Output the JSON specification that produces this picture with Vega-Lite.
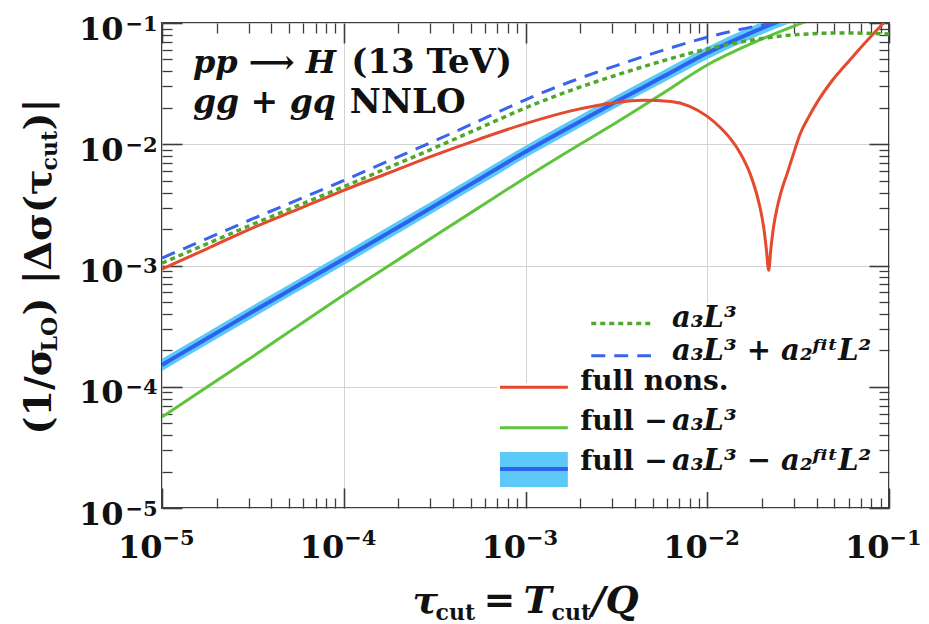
{
  "$schema": "https://vega.github.io/schema/vega-lite/v6.json",
  "width": 727,
  "height": 485,
  "autosize": {"type": "none"},
  "padding": {"left": 162, "top": 23, "right": 40, "bottom": 116},
  "background": "white",
  "datasets": {
    "band": [
      {"tau": 1e-5, "value": 1.514e-4, "lo": 1.349e-4, "hi": 1.699e-4},
      {"tau": 1.778e-5, "value": 2.512e-4, "lo": 2.239e-4, "hi": 2.818e-4},
      {"tau": 3.162e-5, "value": 4.169e-4, "lo": 3.716e-4, "hi": 4.678e-4},
      {"tau": 5.623e-5, "value": 6.871e-4, "lo": 6.124e-4, "hi": 7.709e-4},
      {"tau": 1e-4, "value": 1.132e-3, "lo": 1.009e-3, "hi": 1.270e-3},
      {"tau": 1.778e-4, "value": 1.875e-3, "lo": 1.671e-3, "hi": 2.104e-3},
      {"tau": 3.162e-4, "value": 3.112e-3, "lo": 2.774e-3, "hi": 3.492e-3},
      {"tau": 5.623e-4, "value": 5.200e-3, "lo": 4.635e-3, "hi": 5.834e-3},
      {"tau": 1e-3, "value": 8.670e-3, "lo": 7.728e-3, "hi": 9.728e-3},
      {"tau": 1.778e-3, "value": 1.403e-2, "lo": 1.250e-2, "hi": 1.574e-2},
      {"tau": 3.162e-3, "value": 2.249e-2, "lo": 2.005e-2, "hi": 2.523e-2},
      {"tau": 5.623e-3, "value": 3.565e-2, "lo": 3.178e-2, "hi": 4.000e-2},
      {"tau": 1e-2, "value": 5.649e-2, "lo": 5.035e-2, "hi": 6.338e-2},
      {"tau": 1.778e-2, "value": 8.414e-2, "lo": 7.500e-2, "hi": 9.441e-2},
      {"tau": 3.162e-2, "value": 0.1189, "lo": 0.1060, "hi": 0.1334}
    ],
    "fullMinusA3": [
      {"tau": 1e-5, "value": 5.623e-5},
      {"tau": 1.778e-5, "value": 1.0e-4},
      {"tau": 3.162e-5, "value": 1.778e-4},
      {"tau": 5.623e-5, "value": 3.192e-4},
      {"tau": 1e-4, "value": 5.715e-4},
      {"tau": 1.778e-4, "value": 1.0e-3},
      {"tau": 3.162e-4, "value": 1.750e-3},
      {"tau": 5.623e-4, "value": 3.048e-3},
      {"tau": 1e-3, "value": 5.297e-3},
      {"tau": 1.778e-3, "value": 9.016e-3},
      {"tau": 3.162e-3, "value": 1.514e-2},
      {"tau": 5.623e-3, "value": 2.600e-2},
      {"tau": 1e-2, "value": 4.508e-2},
      {"tau": 1.778e-2, "value": 6.839e-2},
      {"tau": 3.162e-2, "value": 9.727e-2},
      {"tau": 5.623e-2, "value": 0.1349}
    ],
    "fullNons": [
      {"tau": 1e-5, "value": 9.333e-4},
      {"tau": 1.778e-5, "value": 1.380e-3},
      {"tau": 3.162e-5, "value": 2.042e-3},
      {"tau": 5.623e-5, "value": 2.917e-3},
      {"tau": 1e-4, "value": 4.169e-3},
      {"tau": 1.778e-4, "value": 5.821e-3},
      {"tau": 3.162e-4, "value": 8.128e-3},
      {"tau": 5.623e-4, "value": 1.109e-2},
      {"tau": 1e-3, "value": 1.479e-2},
      {"tau": 1.778e-3, "value": 1.884e-2},
      {"tau": 3.162e-3, "value": 2.213e-2},
      {"tau": 4.467e-3, "value": 2.301e-2},
      {"tau": 6.310e-3, "value": 2.249e-2},
      {"tau": 7.943e-3, "value": 2.065e-2},
      {"tau": 1e-2, "value": 1.698e-2},
      {"tau": 1.175e-2, "value": 1.380e-2},
      {"tau": 1.334e-2, "value": 1.122e-2},
      {"tau": 1.514e-2, "value": 8.511e-3},
      {"tau": 1.718e-2, "value": 5.754e-3},
      {"tau": 1.862e-2, "value": 3.981e-3},
      {"tau": 1.950e-2, "value": 3.020e-3},
      {"tau": 2.042e-2, "value": 2.089e-3},
      {"tau": 2.113e-2, "value": 1.380e-3},
      {"tau": 2.178e-2, "value": 9.120e-4},
      {"tau": 2.239e-2, "value": 1.380e-3},
      {"tau": 2.317e-2, "value": 2.089e-3},
      {"tau": 2.427e-2, "value": 3.020e-3},
      {"tau": 2.541e-2, "value": 3.981e-3},
      {"tau": 2.754e-2, "value": 5.754e-3},
      {"tau": 2.951e-2, "value": 7.943e-3},
      {"tau": 3.236e-2, "value": 1.202e-2},
      {"tau": 3.631e-2, "value": 1.698e-2},
      {"tau": 3.981e-2, "value": 2.163e-2},
      {"tau": 4.898e-2, "value": 3.388e-2},
      {"tau": 6.095e-2, "value": 4.955e-2},
      {"tau": 7.586e-2, "value": 7.161e-2},
      {"tau": 9.333e-2, "value": 0.1},
      {"tau": 0.1, "value": 0.1109}
    ],
    "a3": [
      {"tau": 1e-5, "value": 1.047e-3},
      {"tau": 1.778e-5, "value": 1.514e-3},
      {"tau": 3.162e-5, "value": 2.188e-3},
      {"tau": 5.623e-5, "value": 3.126e-3},
      {"tau": 1e-4, "value": 4.467e-3},
      {"tau": 1.778e-4, "value": 6.457e-3},
      {"tau": 3.162e-4, "value": 9.333e-3},
      {"tau": 5.623e-4, "value": 1.365e-2},
      {"tau": 1e-3, "value": 1.995e-2},
      {"tau": 1.778e-3, "value": 2.786e-2},
      {"tau": 3.162e-3, "value": 3.715e-2},
      {"tau": 5.623e-3, "value": 4.842e-2},
      {"tau": 1e-2, "value": 6.109e-2},
      {"tau": 1.778e-2, "value": 7.244e-2},
      {"tau": 3.162e-2, "value": 8.035e-2},
      {"tau": 5.623e-2, "value": 8.279e-2},
      {"tau": 0.1, "value": 8.128e-2}
    ],
    "a3a2": [
      {"tau": 1e-5, "value": 1.152e-3},
      {"tau": 1.778e-5, "value": 1.673e-3},
      {"tau": 3.162e-5, "value": 2.430e-3},
      {"tau": 5.623e-5, "value": 3.494e-3},
      {"tau": 1e-4, "value": 5.024e-3},
      {"tau": 1.778e-4, "value": 7.317e-3},
      {"tau": 3.162e-4, "value": 1.066e-2},
      {"tau": 5.623e-4, "value": 1.574e-2},
      {"tau": 1e-3, "value": 2.327e-2},
      {"tau": 1.778e-3, "value": 3.292e-2},
      {"tau": 3.162e-3, "value": 4.457e-2},
      {"tau": 5.623e-3, "value": 5.917e-2},
      {"tau": 1e-2, "value": 7.633e-2},
      {"tau": 1.778e-2, "value": 9.307e-2},
      {"tau": 3.162e-2, "value": 0.1071}
    ]
  },
  "resolve": {"axis": {"x": "independent", "y": "independent"}},
  "layer": [
    {
      "data": {"name": "band"},
      "mark": {"type": "area", "color": "#5cc9f7", "opacity": 1, "clip": true, "interpolate": "monotone"},
      "encoding": {
        "x": {"field": "tau", "type": "quantitative", "scale": {"type": "log", "domain": [1e-5, 0.1], "nice": false},
          "axis": {"orient": "bottom", "values": [1e-5, 1e-4, 1e-3, 1e-2, 1e-1], "tickSize": -20, "tickWidth": 1.6, "labels": false, "grid": true, "title": null}},
        "y": {"field": "lo", "type": "quantitative", "scale": {"type": "log", "domain": [1e-5, 0.1], "nice": false},
          "axis": {"orient": "left", "values": [1e-5, 1e-4, 1e-3, 1e-2, 1e-1], "tickSize": -20, "tickWidth": 1.6, "labels": false, "grid": true, "title": null}},
        "y2": {"field": "hi"}
      }
    },
    {
      "data": {"name": "band"},
      "mark": {"type": "line", "color": "#2b63f0", "strokeWidth": 4, "clip": true, "interpolate": "monotone"},
      "encoding": {
        "x": {"field": "tau", "type": "quantitative",
          "axis": {"orient": "bottom", "values": [2e-5, 3e-5, 4e-5, 5e-5, 6e-5, 7e-5, 8e-5, 9e-5, 2e-4, 3e-4, 4e-4, 5e-4, 6e-4, 7e-4, 8e-4, 9e-4, 2e-3, 3e-3, 4e-3, 5e-3, 6e-3, 7e-3, 8e-3, 9e-3, 2e-2, 3e-2, 4e-2, 5e-2, 6e-2, 7e-2, 8e-2, 9e-2], "tickSize": -10, "tickWidth": 1.3, "labels": false, "title": null}},
        "y": {"field": "value", "type": "quantitative",
          "axis": {"orient": "left", "values": [2e-5, 3e-5, 4e-5, 5e-5, 6e-5, 7e-5, 8e-5, 9e-5, 2e-4, 3e-4, 4e-4, 5e-4, 6e-4, 7e-4, 8e-4, 9e-4, 2e-3, 3e-3, 4e-3, 5e-3, 6e-3, 7e-3, 8e-3, 9e-3, 2e-2, 3e-2, 4e-2, 5e-2, 6e-2, 7e-2, 8e-2, 9e-2], "tickSize": -10, "tickWidth": 1.3, "labels": false, "title": null}}
      }
    },
    {
      "data": {"name": "fullMinusA3"},
      "mark": {"type": "line", "color": "#5ec43c", "strokeWidth": 3, "clip": true, "interpolate": "monotone"},
      "encoding": {
        "x": {"field": "tau", "type": "quantitative",
          "axis": {"orient": "top", "values": [1e-5, 1e-4, 1e-3, 1e-2, 1e-1], "tickSize": -20, "tickWidth": 1.6, "labels": false, "title": null}},
        "y": {"field": "value", "type": "quantitative",
          "axis": {"orient": "right", "values": [1e-5, 1e-4, 1e-3, 1e-2, 1e-1], "tickSize": -20, "tickWidth": 1.6, "labels": false, "title": null}}
      }
    },
    {
      "data": {"name": "fullNons"},
      "mark": {"type": "line", "color": "#e5492e", "strokeWidth": 3, "clip": true, "interpolate": "monotone"},
      "encoding": {
        "x": {"field": "tau", "type": "quantitative",
          "axis": {"orient": "top", "values": [2e-5, 3e-5, 4e-5, 5e-5, 6e-5, 7e-5, 8e-5, 9e-5, 2e-4, 3e-4, 4e-4, 5e-4, 6e-4, 7e-4, 8e-4, 9e-4, 2e-3, 3e-3, 4e-3, 5e-3, 6e-3, 7e-3, 8e-3, 9e-3, 2e-2, 3e-2, 4e-2, 5e-2, 6e-2, 7e-2, 8e-2, 9e-2], "tickSize": -10, "tickWidth": 1.3, "labels": false, "title": null}},
        "y": {"field": "value", "type": "quantitative",
          "axis": {"orient": "right", "values": [2e-5, 3e-5, 4e-5, 5e-5, 6e-5, 7e-5, 8e-5, 9e-5, 2e-4, 3e-4, 4e-4, 5e-4, 6e-4, 7e-4, 8e-4, 9e-4, 2e-3, 3e-3, 4e-3, 5e-3, 6e-3, 7e-3, 8e-3, 9e-3, 2e-2, 3e-2, 4e-2, 5e-2, 6e-2, 7e-2, 8e-2, 9e-2], "tickSize": -10, "tickWidth": 1.3, "labels": false, "title": null}}
      }
    },
    {
      "data": {"name": "a3"},
      "mark": {"type": "line", "color": "#4fa82a", "strokeWidth": 3.5, "strokeDash": [5, 4], "clip": true, "interpolate": "monotone"},
      "encoding": {
        "x": {"field": "tau", "type": "quantitative",
          "axis": {"orient": "bottom", "values": [1e-5, 1e-4, 1e-3, 1e-2, 1e-1], "ticks": false, "labelExpr": "'10'", "labelFontSize": 32, "labelAlign": "right", "labelBaseline": "alphabetic", "labelDx": 2, "labelPadding": 49, "title": null}},
        "y": {"field": "value", "type": "quantitative",
          "axis": {"orient": "left", "values": [1e-5, 1e-4, 1e-3, 1e-2, 1e-1], "ticks": false, "labelExpr": "'10'", "labelFontSize": 32, "labelAlign": "right", "labelBaseline": "alphabetic", "labelOffset": 16, "labelPadding": 39, "title": null}}
      }
    },
    {
      "data": {"name": "a3a2"},
      "mark": {"type": "line", "color": "#3a64ee", "strokeWidth": 3, "strokeDash": [14, 9], "clip": true, "interpolate": "monotone"},
      "encoding": {
        "x": {"field": "tau", "type": "quantitative",
          "axis": {"orient": "bottom", "values": [1e-5, 1e-4, 1e-3, 1e-2, 1e-1], "ticks": false, "labelExpr": "'−' + round(-log(datum.value) / LN10)", "labelFontSize": 21, "labelAlign": "left", "labelBaseline": "alphabetic", "labelDx": 4, "labelPadding": 36, "title": null}},
        "y": {"field": "value", "type": "quantitative",
          "axis": {"orient": "left", "values": [1e-5, 1e-4, 1e-3, 1e-2, 1e-1], "ticks": false, "labelExpr": "'−' + round(-log(datum.value) / LN10)", "labelFontSize": 21, "labelAlign": "left", "labelBaseline": "alphabetic", "labelOffset": 7, "labelPadding": 37, "title": null}}
      }
    },
    {
      "data": {"values": [{}]},
      "mark": {"type": "rect", "color": "white"},
      "encoding": {
        "x": {"datum": 6.97e-4, "type": "quantitative",
          "axis": {"orient": "bottom", "ticks": false, "labels": false, "title": "τ", "titleX": 250, "titleY": 104, "titleAngle": 0, "titleAlign": "left", "titleBaseline": "alphabetic", "titleFontSize": 38, "titleFontStyle": "italic"}},
        "x2": {"datum": 7.67e-2},
        "y": {"datum": 1.355e-5, "type": "quantitative",
          "axis": {"orient": "left", "ticks": false, "labels": false, "title": "(1/σ", "titleX": -112, "titleY": 411, "titleAngle": 270, "titleAlign": "left", "titleBaseline": "alphabetic", "titleFontSize": 38}},
        "y2": {"datum": 1.074e-4}
      }
    },
    {
      "data": {"values": [{}]},
      "mark": {"type": "rect", "color": "white"},
      "encoding": {
        "x": {"datum": 2.12e-3, "type": "quantitative",
          "axis": {"orient": "bottom", "ticks": false, "labels": false, "title": "cut", "titleX": 273, "titleY": 111, "titleAngle": 0, "titleAlign": "left", "titleBaseline": "alphabetic", "titleFontSize": 22}},
        "x2": {"datum": 7.67e-2},
        "y": {"datum": 1.074e-4, "type": "quantitative",
          "axis": {"orient": "left", "ticks": false, "labels": false, "title": "LO", "titleX": -106, "titleY": 328, "titleAngle": 270, "titleAlign": "left", "titleBaseline": "alphabetic", "titleFontSize": 22}},
        "y2": {"datum": 4.91e-4}
      }
    },
    {
      "data": {"values": [{}]},
      "mark": {"type": "rule", "color": "#4fa82a", "strokeWidth": 3.5, "strokeDash": [5, 4]},
      "encoding": {
        "x": {"datum": 2.3e-3, "type": "quantitative",
          "axis": {"orient": "bottom", "ticks": false, "labels": false, "title": "=", "titleX": 321, "titleY": 104, "titleAngle": 0, "titleAlign": "left", "titleBaseline": "alphabetic", "titleFontSize": 38}},
        "x2": {"datum": 4.9e-3},
        "y": {"datum": 3.33e-4, "type": "quantitative",
          "axis": {"orient": "left", "ticks": false, "labels": false, "title": ") |Δσ(τ", "titleX": -112, "titleY": 292, "titleAngle": 270, "titleAlign": "left", "titleBaseline": "alphabetic", "titleFontSize": 38}}
      }
    },
    {
      "data": {"values": [{}]},
      "mark": {"type": "rule", "color": "#3a64ee", "strokeWidth": 3, "strokeDash": [14, 9]},
      "encoding": {
        "x": {"datum": 2.3e-3, "type": "quantitative",
          "axis": {"orient": "bottom", "ticks": false, "labels": false, "title": "T", "titleX": 361, "titleY": 104, "titleAngle": 0, "titleAlign": "left", "titleBaseline": "alphabetic", "titleFontSize": 38, "titleFontStyle": "italic"}},
        "x2": {"datum": 4.9e-3},
        "y": {"datum": 1.80e-4, "type": "quantitative",
          "axis": {"orient": "left", "ticks": false, "labels": false, "title": "cut", "titleX": -106, "titleY": 147, "titleAngle": 270, "titleAlign": "left", "titleBaseline": "alphabetic", "titleFontSize": 22}}
      }
    },
    {
      "data": {"values": [{}]},
      "mark": {"type": "rule", "color": "#e5492e", "strokeWidth": 3},
      "encoding": {
        "x": {"datum": 7.24e-4, "type": "quantitative",
          "axis": {"orient": "bottom", "ticks": false, "labels": false, "title": "cut", "titleX": 389, "titleY": 111, "titleAngle": 0, "titleAlign": "left", "titleBaseline": "alphabetic", "titleFontSize": 22}},
        "x2": {"datum": 1.71e-3},
        "y": {"datum": 9.89e-5, "type": "quantitative",
          "axis": {"orient": "left", "ticks": false, "labels": false, "title": ")|", "titleX": -112, "titleY": 107, "titleAngle": 270, "titleAlign": "left", "titleBaseline": "alphabetic", "titleFontSize": 38}}
      }
    },
    {
      "data": {"values": [{}]},
      "mark": {"type": "rule", "color": "#5ec43c", "strokeWidth": 3},
      "encoding": {
        "x": {"datum": 7.24e-4, "type": "quantitative",
          "axis": {"orient": "bottom", "ticks": false, "labels": false, "title": "/Q", "titleX": 429, "titleY": 104, "titleAngle": 0, "titleAlign": "left", "titleBaseline": "alphabetic", "titleFontSize": 38, "titleFontStyle": "italic"}},
        "x2": {"datum": 1.71e-3},
        "y": {"datum": 4.59e-5, "type": "quantitative", "axis": null}
      }
    },
    {
      "data": {"values": [{}]},
      "mark": {"type": "rect", "color": "#5cc9f7"},
      "encoding": {
        "x": {"datum": 7.24e-4, "type": "quantitative", "axis": null},
        "x2": {"datum": 1.71e-3},
        "y": {"datum": 1.49e-5, "type": "quantitative", "axis": null},
        "y2": {"datum": 2.90e-5}
      }
    },
    {
      "data": {"values": [{}]},
      "mark": {"type": "rule", "color": "#2b63f0", "strokeWidth": 4},
      "encoding": {
        "x": {"datum": 7.24e-4, "type": "quantitative", "axis": null},
        "x2": {"datum": 1.71e-3},
        "y": {"datum": 2.10e-5, "type": "quantitative", "axis": null}
      }
    },
    {
      "data": {"values": [{}]},
      "mark": {"type": "text", "text": "a₃L³", "font": "DejaVu Serif", "fontWeight": "bold", "fontStyle": "italic", "fontSize": 29, "align": "left", "baseline": "alphabetic", "color": "#111111"},
      "encoding": {
        "x": {"datum": 6.4e-3, "type": "quantitative", "axis": null},
        "y": {"datum": 3.09e-4, "type": "quantitative", "axis": null}
      }
    },
    {
      "data": {"values": [{}]},
      "mark": {"type": "text", "text": "a₃L³ + a₂ᶠⁱᵗL²", "font": "DejaVu Serif", "fontWeight": "bold", "fontStyle": "italic", "fontSize": 29, "align": "left", "baseline": "alphabetic", "color": "#111111"},
      "encoding": {
        "x": {"datum": 6.4e-3, "type": "quantitative", "axis": null},
        "y": {"datum": 1.663e-4, "type": "quantitative", "axis": null}
      }
    },
    {
      "data": {"values": [{}]},
      "mark": {"type": "text", "text": "full nons.", "font": "DejaVu Serif", "fontWeight": "bold", "fontSize": 28, "align": "left", "baseline": "alphabetic", "color": "#111111"},
      "encoding": {
        "x": {"datum": 2.0e-3, "type": "quantitative", "axis": null},
        "y": {"datum": 9.40e-5, "type": "quantitative", "axis": null}
      }
    },
    {
      "data": {"values": [{}]},
      "mark": {"type": "text", "text": "full", "font": "DejaVu Serif", "fontWeight": "bold", "fontSize": 28, "align": "left", "baseline": "alphabetic", "color": "#111111"},
      "encoding": {
        "x": {"datum": 2.0e-3, "type": "quantitative", "axis": null},
        "y": {"datum": 4.40e-5, "type": "quantitative", "axis": null}
      }
    },
    {
      "data": {"values": [{}]},
      "mark": {"type": "text", "text": "−", "font": "DejaVu Serif", "fontWeight": "bold", "fontSize": 28, "align": "center", "baseline": "alphabetic", "color": "#111111"},
      "encoding": {
        "x": {"datum": 5.22e-3, "type": "quantitative", "axis": null},
        "y": {"datum": 4.40e-5, "type": "quantitative", "axis": null}
      }
    },
    {
      "data": {"values": [{}]},
      "mark": {"type": "text", "text": "a₃L³", "font": "DejaVu Serif", "fontWeight": "bold", "fontStyle": "italic", "fontSize": 29, "align": "left", "baseline": "alphabetic", "color": "#111111"},
      "encoding": {
        "x": {"datum": 6.4e-3, "type": "quantitative", "axis": null},
        "y": {"datum": 4.40e-5, "type": "quantitative", "axis": null}
      }
    },
    {
      "data": {"values": [{}]},
      "mark": {"type": "text", "text": "full", "font": "DejaVu Serif", "fontWeight": "bold", "fontSize": 28, "align": "left", "baseline": "alphabetic", "color": "#111111"},
      "encoding": {
        "x": {"datum": 2.0e-3, "type": "quantitative", "axis": null},
        "y": {"datum": 2.06e-5, "type": "quantitative", "axis": null}
      }
    },
    {
      "data": {"values": [{}]},
      "mark": {"type": "text", "text": "−", "font": "DejaVu Serif", "fontWeight": "bold", "fontSize": 28, "align": "center", "baseline": "alphabetic", "color": "#111111"},
      "encoding": {
        "x": {"datum": 5.22e-3, "type": "quantitative", "axis": null},
        "y": {"datum": 2.06e-5, "type": "quantitative", "axis": null}
      }
    },
    {
      "data": {"values": [{}]},
      "mark": {"type": "text", "text": "a₃L³ − a₂ᶠⁱᵗL²", "font": "DejaVu Serif", "fontWeight": "bold", "fontStyle": "italic", "fontSize": 29, "align": "left", "baseline": "alphabetic", "color": "#111111"},
      "encoding": {
        "x": {"datum": 6.4e-3, "type": "quantitative", "axis": null},
        "y": {"datum": 2.06e-5, "type": "quantitative", "axis": null}
      }
    },
    {
      "data": {"values": [{}]},
      "mark": {"type": "text", "text": "pp ⟶ H", "font": "DejaVu Serif", "fontWeight": "bold", "fontStyle": "italic", "fontSize": 32, "align": "left", "baseline": "alphabetic", "color": "#111111"},
      "encoding": {
        "x": {"datum": 1.48e-5, "type": "quantitative", "axis": null},
        "y": {"datum": 3.87e-2, "type": "quantitative", "axis": null}
      }
    },
    {
      "data": {"values": [{}]},
      "mark": {"type": "text", "text": "(13 TeV)", "font": "DejaVu Serif", "fontWeight": "bold", "fontSize": 34, "align": "left", "baseline": "alphabetic", "color": "#111111"},
      "encoding": {
        "x": {"datum": 1.1e-4, "type": "quantitative", "axis": null},
        "y": {"datum": 3.87e-2, "type": "quantitative", "axis": null}
      }
    },
    {
      "data": {"values": [{}]},
      "mark": {"type": "text", "text": "gg + gq", "font": "DejaVu Serif", "fontWeight": "bold", "fontStyle": "italic", "fontSize": 33, "align": "left", "baseline": "alphabetic", "color": "#111111"},
      "encoding": {
        "x": {"datum": 1.48e-5, "type": "quantitative", "axis": null},
        "y": {"datum": 1.81e-2, "type": "quantitative", "axis": null}
      }
    },
    {
      "data": {"values": [{}]},
      "mark": {"type": "text", "text": "NNLO", "font": "DejaVu Serif", "fontWeight": "bold", "fontSize": 34, "align": "left", "baseline": "alphabetic", "color": "#111111"},
      "encoding": {
        "x": {"datum": 1.08e-4, "type": "quantitative", "axis": null},
        "y": {"datum": 1.81e-2, "type": "quantitative", "axis": null}
      }
    }
  ],
  "config": {
    "view": {"stroke": "#3c3c3c", "strokeWidth": 2},
    "axis": {
      "domain": false,
      "grid": false,
      "labelFont": "DejaVu Serif",
      "labelFontWeight": "bold",
      "labelColor": "#111111",
      "labelFlush": false,
      "labelOverlap": false,
      "titleFont": "DejaVu Serif",
      "titleFontWeight": "bold",
      "titleColor": "#111111",
      "titlePadding": 0,
      "tickColor": "#3c3c3c",
      "gridColor": "#d2d2d2",
      "gridWidth": 1
    }
  }
}
